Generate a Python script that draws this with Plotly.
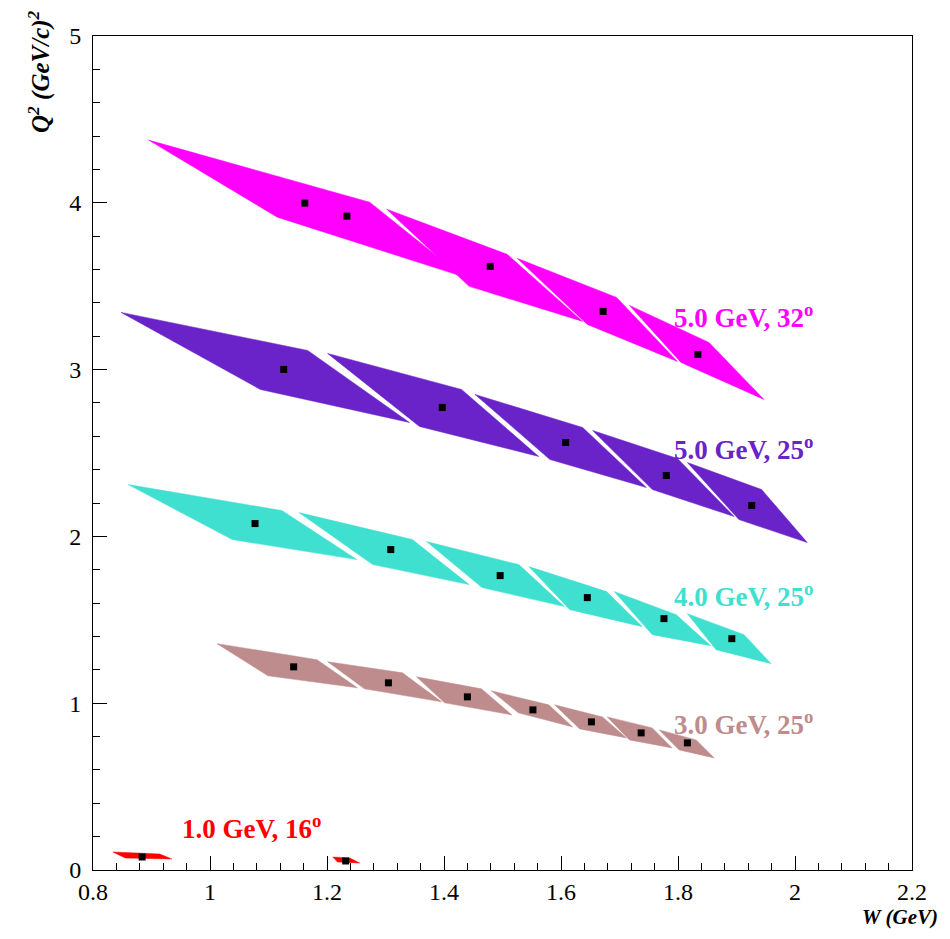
import plotly.graph_objects as go

# ---------------- data ----------------
x_ticks = [0.8, 1.0, 1.2, 1.4, 1.6, 1.8, 2.0, 2.2]
x_tick_labels = ["0.8", "1", "1.2", "1.4", "1.6", "1.8", "2", "2.2"]
y_ticks = [0, 1, 2, 3, 4, 5]
y_tick_labels = ["0", "1", "2", "3", "4", "5"]

# Each band: list of segments; each segment = 4 corners (TL, TR, BR, BL)
mag_w = [[0.895, 1.273, 1.431, 1.115],
         [1.302, 1.508, 1.637, 1.443],
         [1.525, 1.695, 1.799, 1.645],
         [1.717, 1.853, 1.947, 1.805]]
mag_q2 = [[4.376, 4.004, 3.559, 3.914],
          [3.962, 3.691, 3.289, 3.499],
          [3.667, 3.433, 3.049, 3.271],
          [3.385, 3.163, 2.821, 3.043]]
mag_pt_w = [1.162, 1.234, 1.479, 1.672, 1.834]
mag_pt_q2 = [3.998, 3.920, 3.619, 3.349, 3.091]

pur_w = [[0.848, 1.167, 1.341, 1.086],
         [1.201, 1.430, 1.562, 1.358],
         [1.453, 1.637, 1.746, 1.581],
         [1.654, 1.799, 1.896, 1.756],
         [1.816, 1.943, 2.021, 1.904]]
pur_q2 = [[3.343, 3.115, 2.683, 2.881],
          [3.097, 2.881, 2.479, 2.659],
          [2.851, 2.653, 2.293, 2.461],
          [2.635, 2.467, 2.119, 2.281],
          [2.443, 2.281, 1.963, 2.101]]
pur_pt_w = [1.126, 1.397, 1.608, 1.780, 1.926]
pur_pt_q2 = [3.001, 2.773, 2.563, 2.365, 2.185]

cyn_w = [[0.860, 1.123, 1.251, 1.038],
         [1.152, 1.346, 1.443, 1.278],
         [1.370, 1.528, 1.606, 1.465],
         [1.545, 1.678, 1.739, 1.615],
         [1.691, 1.797, 1.856, 1.756],
         [1.816, 1.913, 1.959, 1.865]]
cyn_q2 = [[2.311, 2.155, 1.861, 1.981],
          [2.143, 1.981, 1.711, 1.831],
          [1.969, 1.831, 1.579, 1.693],
          [1.819, 1.669, 1.459, 1.561],
          [1.669, 1.531, 1.345, 1.411],
          [1.537, 1.411, 1.237, 1.321]]
cyn_pt_w = [1.077, 1.309, 1.496, 1.645, 1.776, 1.892]
cyn_pt_q2 = [2.077, 1.921, 1.765, 1.633, 1.507, 1.387]

brn_w = [[1.012, 1.183, 1.252, 1.099],
         [1.201, 1.329, 1.396, 1.264],
         [1.353, 1.464, 1.516, 1.401],
         [1.481, 1.579, 1.620, 1.527],
         [1.589, 1.671, 1.712, 1.632],
         [1.679, 1.756, 1.790, 1.717],
         [1.768, 1.831, 1.862, 1.802]]
brn_q2 = [[1.357, 1.261, 1.092, 1.164],
          [1.249, 1.182, 1.008, 1.086],
          [1.158, 1.086, 0.930, 1.002],
          [1.074, 0.990, 0.858, 0.942],
          [0.990, 0.918, 0.792, 0.846],
          [0.918, 0.852, 0.732, 0.780],
          [0.840, 0.780, 0.672, 0.720]]
brn_pt_w = [1.143, 1.305, 1.440, 1.552, 1.652, 1.737, 1.816]
brn_pt_q2 = [1.218, 1.122, 1.038, 0.960, 0.888, 0.822, 0.762]

red_w = [[0.834, 0.914, 0.935, 0.855],
         [1.210, 1.239, 1.256, 1.218]]
red_q2 = [[0.108, 0.096, 0.066, 0.072],
          [0.078, 0.072, 0.042, 0.048]]
red_pt_w = [0.884, 1.232]
red_pt_q2 = [0.078, 0.054]

band_labels = ["5.0 GeV, 32<sup>o</sup>", "5.0 GeV, 25<sup>o</sup>",
               "4.0 GeV, 25<sup>o</sup>", "3.0 GeV, 25<sup>o</sup>",
               "1.0 GeV, 16<sup>o</sup>"]
label_w = [1.790, 1.790, 1.790, 1.790, 0.949]
label_q2 = [3.32, 2.533, 1.651, 0.882, 0.258]

colors = ["#FF00FF", "#6923C8", "#40E0D0", "#BE8C8C", "#FF0000"]

bands = [(mag_w, mag_q2, mag_pt_w, mag_pt_q2),
         (pur_w, pur_q2, pur_pt_w, pur_pt_q2),
         (cyn_w, cyn_q2, cyn_pt_w, cyn_pt_q2),
         (brn_w, brn_q2, brn_pt_w, brn_pt_q2),
         (red_w, red_q2, red_pt_w, red_pt_q2)]

# ---------------- figure ----------------
fig = go.Figure()
serif = "Liberation Serif"

for (bw, bq, pw, pq), col in zip(bands, colors):
    for sw, sq in zip(bw, bq):
        fig.add_trace(go.Scatter(
            x=sw + [sw[0]], y=sq + [sq[0]], mode="lines", fill="toself",
            fillcolor=col, line=dict(color=col, width=0.5),
            hoverinfo="skip", showlegend=False))

for (bw, bq, pw, pq), col in zip(bands, colors):
    fig.add_trace(go.Scatter(
        x=pw, y=pq, mode="markers",
        marker=dict(symbol="square", size=7, color="black", line=dict(width=0)),
        showlegend=False))

for txt, lx, ly, col in zip(band_labels, label_w, label_q2, colors):
    fig.add_annotation(x=lx, y=ly, xref="x", yref="y", text="<b>" + txt + "</b>",
                       showarrow=False, xanchor="left", yanchor="middle",
                       font=dict(family=serif, size=27, color=col))

fig.add_annotation(x=1.034, y=-0.0731, xref="paper", yref="paper",
                   text="<b><i>W (GeV)</i></b>", showarrow=False,
                   xanchor="right", yanchor="bottom",
                   font=dict(family=serif, size=21, color="black"))
fig.add_annotation(x=-0.066, y=0.958, xref="paper", yref="paper",
                   text="<b><i>Q<sup>2</sup> (GeV/c)<sup>2</sup></i></b>",
                   showarrow=False, textangle=-90,
                   xanchor="center", yanchor="middle",
                   font=dict(family=serif, size=25, color="black"))

axis_common = dict(showgrid=False, zeroline=False, showline=True, mirror=True,
                   linecolor="black", linewidth=1, ticks="inside", ticklen=14,
                   tickcolor="black", tickwidth=1,
                   tickfont=dict(family=serif, size=24, color="black"))

fig.update_xaxes(range=[0.8, 2.2], tickvals=x_ticks, ticktext=x_tick_labels,
                 ticklabelstandoff=0,
                 minor=dict(ticks="inside", ticklen=7, dtick=0.04, tick0=0.8,
                            tickcolor="black", showgrid=False),
                 **axis_common)
fig.update_yaxes(range=[0, 5], tickvals=y_ticks, ticktext=y_tick_labels,
                 ticklabelstandoff=6,
                 minor=dict(ticks="inside", ticklen=7, dtick=0.2, tick0=0,
                            tickcolor="black", showgrid=False),
                 **axis_common)

# the page places the figure 8 px from the top-left corner of the window
fig.update_layout(width=934, height=923, autosize=False,
                  margin=dict(l=85, r=30, t=28, b=61),
                  font=dict(family=serif, size=24, color="black"),
                  plot_bgcolor="white", paper_bgcolor="white",
                  showlegend=False)

fig.write_html("out.html")
